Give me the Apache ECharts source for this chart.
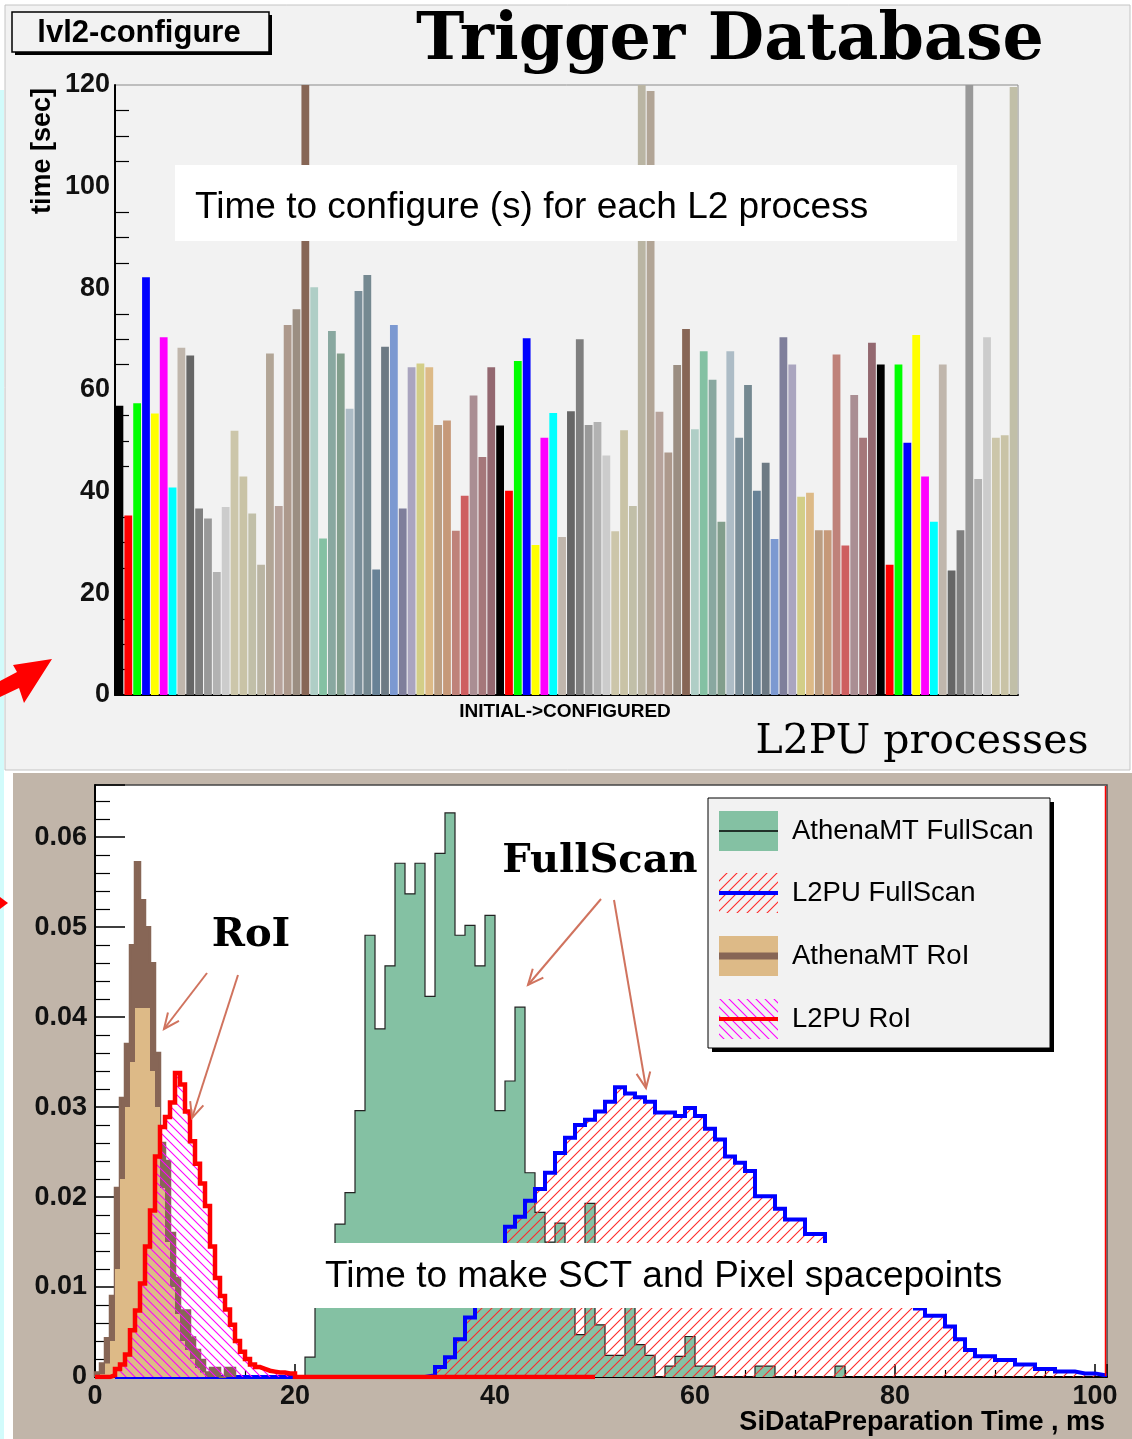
<!DOCTYPE html>
<html><head><meta charset="utf-8">
<script src="https://cdn.jsdelivr.net/npm/echarts@6/dist/echarts.min.js"></script>
<style>html,body{margin:0;padding:0;background:#fff}#c{width:1132px;height:1439px}</style>
</head><body><div id="c"></div><script>
// ---------- DATA ----------
// Top: time to configure (s) for each L2PU process
const configTimes = [56.9,35.3,57.4,82.2,55.4,70.4,40.8,68.3,66.8,36.7,34.7,24.2,37.0,52.0,43.0,35.7,25.6,67.2,37.2,72.8,
75.9,120,80.2,30.8,71.6,67.2,56.3,79.5,82.6,24.7,68.5,72.8,36.7,64.5,65.2,64.5,53.1,54.0,32.3,39.2,
58.9,46.8,64.5,53.0,40.2,65.7,70.2,29.5,50.6,55.5,31.1,55.8,70.0,53.1,53.7,47.1,32.2,52.1,37.2,120,
118.8,55.7,47.7,64.9,72.0,52.3,67.6,62.0,34.1,67.6,50.6,61.0,40.2,45.7,30.7,70.4,65.0,39.0,39.8,32.4,
32.4,67.0,29.4,59.0,50.6,69.3,65.0,25.6,65.0,49.6,70.8,43.0,34.1,65.0,24.5,32.4,120,42.5,70.4,50.6,
51.1,119.6];
const processIds = configTimes.map((_, i) => 'L2PU ' + (i + 1));
const topYTicks = [0, 20, 40, 60, 80, 100, 120];

// Bottom: SiDataPreparation time histograms (normalised)
const athenaFullScanStart = 21, athenaFullScanBin = 1;
const athenaFullScan = [0.0022,0.009,0.012,0.0170,0.0205,0.0296,0.0491,0.0387,0.0457,0.0571,0.0537,0.0571,0.0423,0.0582,
0.0627,0.0491,0.0502,0.0457,0.0513,0.0296,0.0329,0.0411,0.0227,0.0183,0.0150,0.0171,0.011,0.0047,0.0193,0.0058,
0.0024,0.0024,0.011,0.0036,0.0024,0,0.0012,0.0023,0.0045,0.0012,0.0012,0,0,0,0,0.0012,0.0012,0,0,0,0,0,0,0.0012];

const l2puFullScanStart = 33, l2puFullScanBin = 1, l2puFullScanFrom = 2;
const l2puFullScan = [0.0002,0.0011,0.0022,0.0042,0.0066,0.009,0.0115,0.014,0.0167,0.0178,0.0196,0.0209,0.0227,0.0249,
0.0266,0.0280,0.0286,0.0295,0.0306,0.0322,0.0315,0.0311,0.0306,0.0294,0.0294,0.0290,0.0299,0.0290,0.0276,0.0264,
0.0245,0.0238,0.0229,0.0201,0.0201,0.0187,0.0175,0.0175,0.0159,0.0159,0.0145,0.0135,0.0125,0.0115,0.0105,0.0098,
0.0090,0.0085,0.0080,0.0076,0.0068,0.0068,0.0056,0.0042,0.0030,0.0023,0.0023,0.0019,0.0019,0.0014,0.0014,0.0009,
0.0009,0.0006,0.0006,0.0004,0.0004,0.0002];

const athenaRoiStart = 0, athenaRoiBin = 0.5;
const athenaRoiUpper = [0.0005,0.0015,0.0043,0.009,0.021,0.031,0.037,0.048,0.0572,0.053,0.050,0.046,0.036,0.026,
0.024,0.016,0.011,0.0074,0.0074,0.0044,0.0030,0.0019,0.0005,0.001,0.001,0,0.001,0.001];
const athenaRoiLower = [0,0.0003,0.0015,0.004,0.012,0.022,0.030,0.035,0.041,0.041,0.041,0.034,0.030,0.021,
0.015,0.010,0.007,0.004,0.003,0.002,0.001,0.0005,0,0,0,0,0,0];

const l2puRoiStart = 0, l2puRoiBin = 0.5, l2puRoiTo = 50;
const l2puRoi = [0,0,0,0.0002,0.0009,0.0014,0.0025,0.0052,0.0074,0.0104,0.0145,0.0185,0.0245,0.0278,0.0289,0.0305,
0.0338,0.0325,0.0295,0.0262,0.0237,0.0215,0.0190,0.0145,0.0110,0.0090,0.0075,0.0058,0.0040,0.0028,0.0020,0.0014,
0.0011,0.0009,0.0007,0.0006,0.0005,0.0005,0.0004,0.0004];

const bottomXTicks = [0, 20, 40, 60, 80, 100];
const bottomYTicks = [0, 0.01, 0.02, 0.03, 0.04, 0.05, 0.06];
const legendNames = ['AthenaMT FullScan', 'L2PU FullScan', 'AthenaMT RoI', 'L2PU RoI'];

// ---------- STYLE ----------
const SANS = '"Liberation Sans", Arial, sans-serif';
const SERIF = '"DejaVu Serif", "Liberation Serif", serif';
const rootPalette = ['#000000','#ff0000','#00ff00','#0000ff','#ffff00','#ff00ff','#00ffff',
'#c0b6ac','#666666','#7f7f7f','#999999','#b2b2b2','#cccccc',
'#ccc6aa','#c9c3a6','#c1bfa8','#bab5a3','#b2a596','#b7a39b','#ad998c','#9b8e82','#876656',
'#afcec6','#84c1a3','#89a8a0','#829e8c','#adbcc6','#7a8e99','#758991','#688296','#6d7a84',
'#7c99d1','#7f7f9b','#aaa5bf','#d3ce87','#ddba87','#bc9e82','#c69979','#bf827a','#ce5e60',
'#aa8e93','#a5777a','#936870'];

function hatch(color, dir, size, lw) {
  const c = document.createElement('canvas');
  c.width = size; c.height = size;
  const g = c.getContext('2d');
  g.strokeStyle = color; g.lineWidth = lw; g.beginPath();
  if (dir === '/') {
    g.moveTo(0, size); g.lineTo(size, 0);
    g.moveTo(-size/2, size/2); g.lineTo(size/2, -size/2);
    g.moveTo(size/2, size*1.5); g.lineTo(size*1.5, size/2);
  } else {
    g.moveTo(0, 0); g.lineTo(size, size);
    g.moveTo(-size/2, size/2); g.lineTo(size/2, size*1.5);
    g.moveTo(size/2, -size/2); g.lineTo(size*1.5, size/2);
  }
  g.stroke();
  return c;
}
const redHatch = { image: hatch('#ff2a2a', '/', 10, 1.1), repeat: 'repeat' };
const magHatch = { image: hatch('#ff00ff', '\\', 9, 1.1), repeat: 'repeat' };

function histPoints(start, width, values, from, to) {
  const pts = [];
  if (from != null) pts.push([from, 0]);
  pts.push([start, 0]);
  values.forEach((v, i) => pts.push([start + i * width, v]));
  const end = start + values.length * width;
  pts.push([end, values[values.length - 1]]);
  pts.push([end, 0]);
  if (to != null) pts.push([to, 0]);
  return pts;
}

// ---------- GRAPHIC ----------
const ARROW = '#d0735e';
function arrow(x1, y1, x2, y2) {
  const a = Math.atan2(y2 - y1, x2 - x1), L = 17, s = 0.42;
  return [
    { type: 'line', z: 50, shape: { x1, y1, x2, y2 }, style: { stroke: ARROW, lineWidth: 2 } },
    { type: 'polyline', z: 50, shape: { points: [[x2 - L*Math.cos(a - s), y2 - L*Math.sin(a - s)], [x2, y2], [x2 - L*Math.cos(a + s), y2 - L*Math.sin(a + s)]] },
      style: { stroke: ARROW, lineWidth: 2, fill: null } }
  ];
}
function txt(text, x, y, font, align, extra) {
  return Object.assign({ type: 'text', z: 60, style: { text, x, y, font, fill: '#000', textAlign: align || 'left', textVerticalAlign: 'middle' } }, extra || {});
}
const legendRows = [831, 893, 956, 1019];
const legendIcons = [
  { fill: '#84c1a3', stroke: '#000', lw: 1.5 },
  { fill: redHatch, stroke: '#0000ff', lw: 4 },
  { fill: '#ddba87', stroke: '#876656', lw: 7 },
  { fill: magHatch, stroke: '#ff0000', lw: 4 }
];
const graphics = [
  { type: 'rect', z: -100, shape: { x: 0, y: 90, width: 4, height: 1349 }, style: { fill: '#d2fbfb' } },
  { type: 'rect', z: -100, shape: { x: 5, y: 5, width: 1125, height: 765 }, style: { fill: '#f2f2f2', stroke: '#c4c4c4', lineWidth: 1 } },
  { type: 'rect', z: -100, shape: { x: 13, y: 773, width: 1119, height: 666 }, style: { fill: '#c1b5a9' } },
  { type: 'polygon', z: 50, shape: { points: [[52,659],[13,665],[17,672],[0,681],[0,697],[19,688],[24,703]] }, style: { fill: '#ff0000' } },
  { type: 'polygon', z: 50, shape: { points: [[0,897],[8,903],[0,909]] }, style: { fill: '#ff0000' } },
  // lvl2-configure box
  { type: 'rect', z: 40, shape: { x: 15, y: 15, width: 257, height: 40 }, style: { fill: '#000' } },
  { type: 'rect', z: 41, shape: { x: 12, y: 12, width: 257, height: 40 }, style: { fill: '#f2f2f2', stroke: '#000', lineWidth: 1.5 } },
  txt('lvl2-configure', 139, 33, 'bold 31px ' + SANS, 'center'),
  txt('Trigger Database', 730, 42, 'bold 65px ' + SERIF, 'center'),
  txt('time [sec]', 0, 0, 'bold 27px ' + SANS, 'center', { x: 43, y: 151, rotation: Math.PI / 2 }),
  { type: 'rect', z: 55, shape: { x: 175, y: 165, width: 782, height: 76 }, style: { fill: '#ffffff' } },
  txt('Time to configure (s) for each L2 process', 195, 208, '37px ' + SANS, 'left'),
  txt('INITIAL->CONFIGURED', 565, 712, 'bold 19px ' + SANS, 'center'),
  txt('L2PU processes', 922, 742, '41px ' + SERIF, 'center'),
  // bottom panel
  { type: 'line', z: 45, shape: { x1: 1105.5, y1: 786, x2: 1105.5, y2: 1376 }, style: { stroke: '#ff0000', lineWidth: 1.5 } },
  txt('RoI', 251, 936, 'bold 40px ' + SERIF, 'center'),
  txt('FullScan', 600, 862, 'bold 40px ' + SERIF, 'center'),
  ...arrow(207, 973, 164, 1029),
  ...arrow(238, 975, 192, 1118),
  ...arrow(601, 899, 528, 985),
  ...arrow(614, 900, 646, 1088),
  { type: 'rect', z: 55, shape: { x: 305, y: 1243, width: 735, height: 65 }, style: { fill: '#ffffff' } },
  txt('Time to make SCT and Pixel spacepoints', 325, 1277, '37px ' + SANS, 'left'),
  txt('SiDataPreparation Time , ms', 1105, 1423, 'bold 27px ' + SANS, 'right'),
  // legend
  { type: 'rect', z: 56, shape: { x: 712, y: 802, width: 342, height: 250 }, style: { fill: '#000' } },
  { type: 'rect', z: 57, shape: { x: 708, y: 798, width: 342, height: 250 }, style: { fill: '#f2f2f2', stroke: '#000', lineWidth: 1 } }
];
legendRows.forEach((cy, i) => {
  const ic = legendIcons[i];
  graphics.push({ type: 'rect', z: 58, shape: { x: 719, y: cy - 20, width: 59, height: 40 }, style: { fill: ic.fill } });
  graphics.push({ type: 'line', z: 59, shape: { x1: 719, y1: cy, x2: 778, y2: cy }, style: { stroke: ic.stroke, lineWidth: ic.lw } });
  graphics.push(txt(legendNames[i], 792, cy, '27.5px ' + SANS, 'left', { z: 60 }));
});

// ---------- CHART ----------
const chart = echarts.init(document.getElementById('c'), null, { renderer: 'canvas' });
const boldLabel = { fontFamily: SANS, fontWeight: 'bold', fontSize: 27, color: '#111' };
const histLine = (name, pts, line, area, z) => ({
  name, type: 'line', xAxisIndex: 1, yAxisIndex: 1, data: pts, step: 'end', z,
  symbol: 'none', showSymbol: false, animation: false,
  lineStyle: Object.assign({ join: 'miter', cap: 'butt' }, line),
  areaStyle: { color: area, opacity: 1 }
});
chart.setOption({
  animation: false,
  backgroundColor: '#ffffff',
  grid: [
    { left: 115, top: 85, width: 903, height: 610, show: true, backgroundColor: '#f2f2f2', borderColor: '#8a8a8a', borderWidth: 1 },
    { left: 95, top: 785, width: 1012, height: 592, show: true, backgroundColor: '#ffffff', borderColor: '#444', borderWidth: 1.5 }
  ],
  xAxis: [
    { gridIndex: 0, type: 'category', data: processIds, boundaryGap: true,
      axisLine: { lineStyle: { color: '#000', width: 2 } }, axisTick: { show: false }, axisLabel: { show: false }, splitLine: { show: false } },
    { gridIndex: 1, type: 'value', min: bottomXTicks[0], max: 101.2, interval: 20,
      axisLine: { show: true, onZero: false, lineStyle: { color: '#000', width: 2 } },
      axisTick: { inside: true, length: 13, lineStyle: { color: '#000', width: 1.5 } },
      minorTick: { show: true, splitNumber: 4, length: 7, lineStyle: { color: '#000', width: 1.2 } },
      splitLine: { show: false },
      axisLabel: Object.assign({ margin: 6, showMaxLabel: false,
        formatter: v => bottomXTicks.indexOf(Math.round(v)) >= 0 && Math.abs(v - Math.round(v)) < 1e-6 ? String(Math.round(v)) : '' }, boldLabel) }
  ],
  yAxis: [
    { gridIndex: 0, type: 'value', min: topYTicks[0], max: topYTicks[topYTicks.length - 1], interval: 20,
      axisLine: { show: true, lineStyle: { color: '#000', width: 2 } },
      axisTick: { inside: true, length: 28, lineStyle: { color: '#000', width: 1.5 } },
      minorTick: { show: true, splitNumber: 4, length: 14, lineStyle: { color: '#000', width: 1.2 } },
      splitLine: { show: false },
      axisLabel: Object.assign({ margin: 5 }, boldLabel) },
    { gridIndex: 1, type: 'value', min: 0, max: 0.0658, interval: 0.01,
      axisLine: { show: true, lineStyle: { color: '#000', width: 2 } },
      axisTick: { inside: true, length: 30, lineStyle: { color: '#000', width: 1.5 } },
      minorTick: { show: true, splitNumber: 5, length: 15, lineStyle: { color: '#000', width: 1.2 } },
      splitLine: { show: false },
      axisLabel: Object.assign({ margin: 8, showMaxLabel: false,
        formatter: v => {
          const k = bottomYTicks.findIndex(t => Math.abs(t - v) < 1e-9);
          if (k < 0) return '';
          return k === 0 ? '0' : bottomYTicks[k].toFixed(2);
        } }, boldLabel) }
  ],
  series: [
    { name: 'Time to configure', type: 'bar', xAxisIndex: 0, yAxisIndex: 0, barCategoryGap: '12%',
      data: configTimes.map((v, i) => ({ value: v, itemStyle: { color: rootPalette[i % rootPalette.length] } })) },
    histLine(legendNames[0], histPoints(athenaFullScanStart, athenaFullScanBin, athenaFullScan), { color: '#222', width: 1.2 }, '#84c1a3', 2),
    histLine(legendNames[1], histPoints(l2puFullScanStart, l2puFullScanBin, l2puFullScan, l2puFullScanFrom), { color: '#0000ff', width: 4 }, redHatch, 3),
    histLine(legendNames[2], histPoints(athenaRoiStart, athenaRoiBin, athenaRoiUpper), { color: '#876656', width: 2.5 }, '#876656', 4),
    histLine(legendNames[2] + ' (core)', histPoints(athenaRoiStart, athenaRoiBin, athenaRoiLower), { color: '#ddba87', width: 0, opacity: 0 }, '#ddba87', 5),
    histLine(legendNames[3], histPoints(l2puRoiStart, l2puRoiBin, l2puRoi, null, l2puRoiTo), { color: '#ff0000', width: 4.5 }, magHatch, 6)
  ],
  graphic: { elements: graphics }
});
</script></body></html>
